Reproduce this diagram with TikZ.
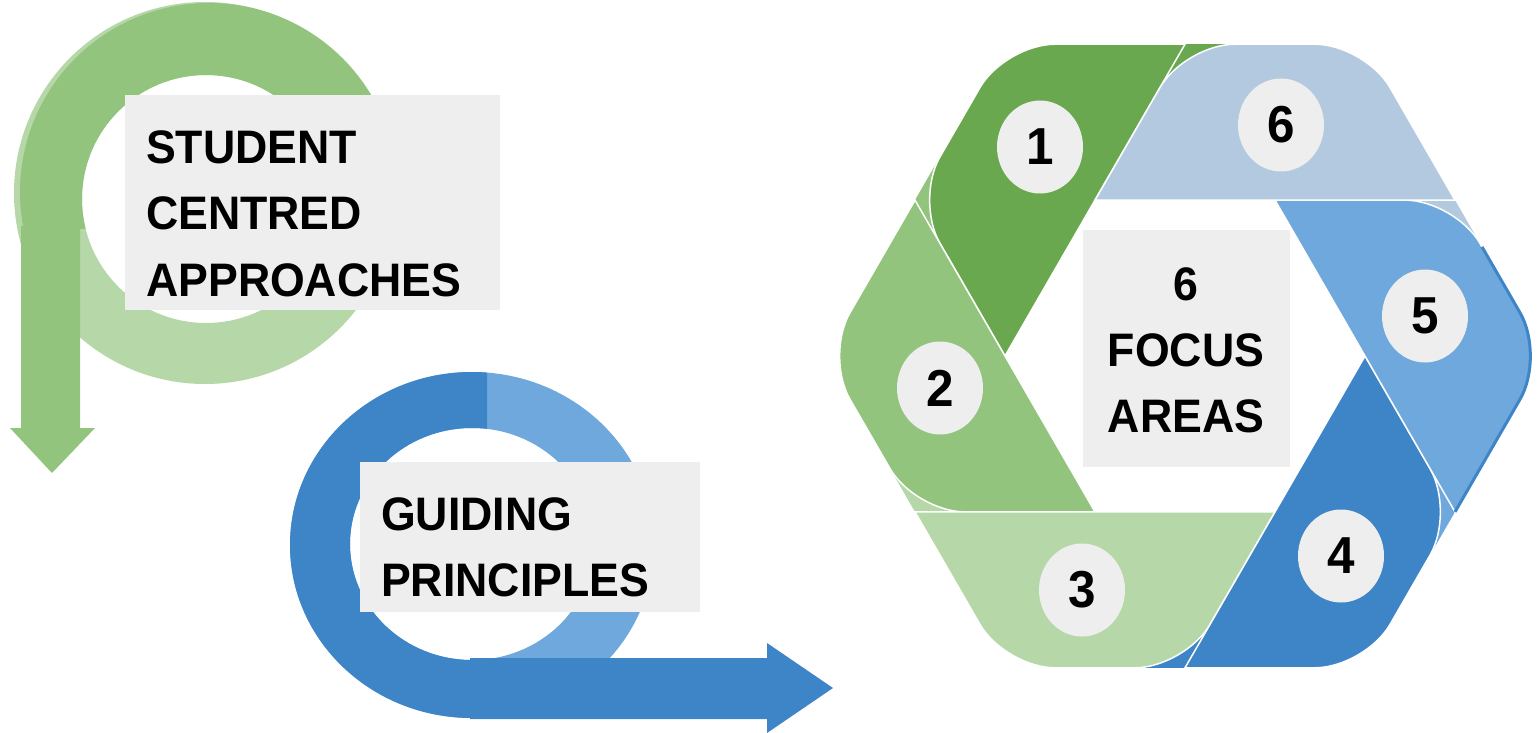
\documentclass[tikz,border=0pt]{standalone}
\usepackage{fontspec}
\setmainfont[FakeStretch=0.95]{Liberation Sans}
\usepackage{tikz}
\usetikzlibrary{calc, shapes.geometric}

\definecolor{grA}{HTML}{6AA84F}
\definecolor{grB}{HTML}{93C47D}
\definecolor{grC}{HTML}{B6D7A8}
\definecolor{blD}{HTML}{3D85C6}
\definecolor{blL}{HTML}{6FA8DC}
\definecolor{blP}{HTML}{B3C9E0}
\definecolor{boxgray}{HTML}{EEEEEE}

\begin{document}
\begin{tikzpicture}[x=1pt, y=-1pt,
    box/.style={fill=boxgray},
    title/.style={font=\bfseries\fontsize{47}{66.5}\selectfont, align=left, inner sep=0pt},
    numdisk/.style={ellipse, fill=boxgray, minimum width=86pt, minimum height=93pt, inner sep=0pt,
        font=\bfseries\fontsize{52}{52}\selectfont},
    seg/.style={draw=white, line width=1.5pt}]
    \useasboundingbox (0,0) rectangle (1537,733);

    %緑の矢印
    \fill[grC, even odd rule] (205,193) circle (191) (206,199) circle (124);
    \begin{scope}
        \clip (0,0) rectangle (420,228);
        \fill[grB, even odd rule] (209,192) circle (189) (206,199) circle (124);
    \end{scope}
    \fill[grB] (21,226) -- (80,226) -- (80,428) -- (95,428) -- (52,473) -- (10,428) -- (21,428) -- cycle;

    %青の矢印
    \fill[blL, even odd rule] (472,545) ellipse[x radius=182, y radius=173] (472,544) ellipse[x radius=122, y radius=116];
    \begin{scope}
        \clip (280,360) rectangle (487,733);
        \fill[blD, even odd rule] (472,545) ellipse[x radius=182, y radius=173] (472,544) ellipse[x radius=122, y radius=116];
    \end{scope}
    \fill[blD] (470,658) -- (767,658) -- (767,643) -- (833,688) -- (767,733) -- (767,719) -- (470,719) -- cycle;

    %文字を書く
    \fill[box] (125,95) rectangle (500,310);
    \node[title, anchor=north west] (student) at (146,130) {STUDENT\\CENTRED\\APPROACHES};
    \fill[box] (360,462) rectangle (700,612);
    \node[title, anchor=north west] (guiding) at (381,497) {GUIDING\\PRINCIPLES};

    %六角形
    \coordinate (hc) at (1185,356);
    \foreach \a in {0,60,...,300}{
        \coordinate (o\a) at ($(hc)+(-\a:360)$);
        \coordinate (i\a) at ($(hc)+(-\a:180)$);
    }
    \foreach \a in {30,90,...,330}
        \coordinate (m\a) at ($(hc)+(-\a:311.77)$);

    \foreach \m/\o/\i/\c in {m90/o60/i120/grA, m150/o120/i180/grB, m210/o180/i240/grC,
                            m270/o240/i300/blD, m330/o300/i0/blL, m30/o0/i60/blP}
        \fill[\c] (\m) -- ($(\m)!0.5!(\o)$) -- ($(\m)!0.5!(\i)$) -- cycle;

    \foreach \p/\o/\n/\i/\c in {m90/o120/m150/i180/grA, m150/o180/m210/i240/grB, m210/o240/m270/i300/grC,
                               m270/o300/m330/i0/blD, m330/o0/m30/i60/blL, m30/o60/m90/i120/blP}
        \path[fill=\c, seg] (\p) [rounded corners=50pt] -- (\o) -- (\n) [sharp corners] -- (\i) -- cycle;

    \draw[blD, line width=3pt] ($(m30)!0.3!(o0)$) [rounded corners=50pt] -- (o0) -- (m330);

    %数字を書く
    \node[numdisk] (n1) at (1040,147) {1};
    \node[numdisk] (n2) at (940,388) {2};
    \node[numdisk] (n3) at (1082,590) {3};
    \node[numdisk] (n4) at (1341,556) {4};
    \node[numdisk] (n5) at (1425,316) {5};
    \node[numdisk] (n6) at (1281,125) {6};

    \fill[box] (1083,230) rectangle (1290,467);
    \node[title, align=center, anchor=north, font=\bfseries\fontsize{47}{66}\selectfont] (focus) at (1186,267) {6\\FOCUS\\AREAS};
\end{tikzpicture}
\end{document}
